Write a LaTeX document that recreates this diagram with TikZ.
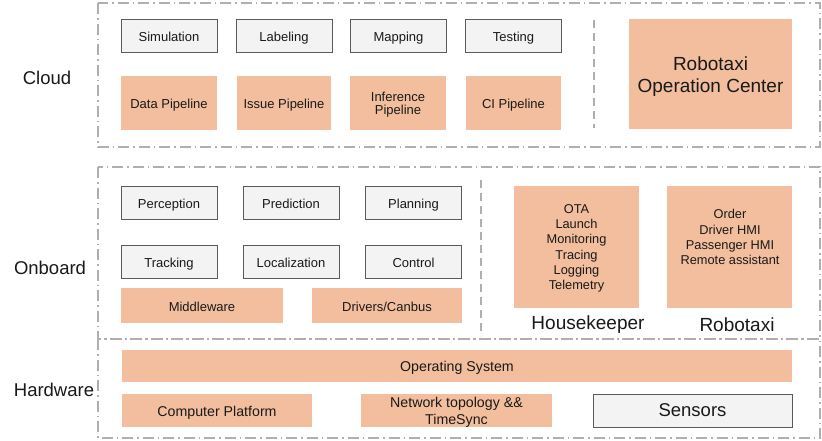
\documentclass[tikz,border=0pt]{standalone}
\usepackage{fontspec}
\setmainfont{Liberation Sans}
\definecolor{peach}{RGB}{243,190,157}
\definecolor{boxgray}{RGB}{243,243,244}
\definecolor{boxline}{RGB}{90,90,90}
\definecolor{framegray}{RGB}{175,175,175}
\definecolor{txt}{RGB}{25,25,25}
\begin{document}
\begin{tikzpicture}[x=1pt,y=-1pt,
  every node/.style={inner sep=0pt,text=txt},
  oneline/.style={text height=11.6pt,text depth=0.2pt},
  gbox/.style={draw=boxline,line width=1pt,fill=boxgray,align=center,font=\fontsize{13}{15.3}\selectfont},
  obox/.style={fill=peach,align=center,font=\fontsize{13}{15.3}\selectfont},
  hwtext/.style={font=\fontsize{14.2}{17}\selectfont},
  biglabel/.style={font=\fontsize{18.5}{22}\selectfont},
  frame/.style={draw=framegray,line width=1.5pt,dash pattern=on 11pt off 4pt on 1.5pt off 4pt},
  sep/.style={draw=framegray,line width=1.5pt,dash pattern=on 8pt off 5pt}
]
\useasboundingbox (0,0) rectangle (822,440);
\fill[white] (0,0) rectangle (822,440);

% frames
\draw[frame] (98,3) rectangle (820,147);
\draw[frame] (98,167) rectangle (820,339);
\draw[frame] (98,339) rectangle (820,438);
\coordinate (cs1) at (594,20); \coordinate (cs2) at (594,128);
\draw[sep] (cs1) -- (cs2);
\coordinate (os1) at (481,180); \coordinate (os2) at (481,336);
\draw[sep] (os1) -- (os2);

% side labels
\node[biglabel] (lcloud) at (47,78) {Cloud};
\node[biglabel] (lonboard) at (50,268) {Onboard};
\node[biglabel] (lhw) at (54,390) {Hardware};

% cloud
\node[gbox,oneline,minimum width=96pt,minimum height=33pt] (sim) at (169,35.5) {Simulation};
\node[gbox,oneline,minimum width=96pt,minimum height=33pt] (lab) at (284,35.5) {Labeling};
\node[gbox,oneline,minimum width=96pt,minimum height=33pt] (map) at (398.5,35.5) {Mapping};
\node[gbox,oneline,minimum width=96pt,minimum height=33pt] (test) at (513.5,35.5) {Testing};
\node[obox,oneline,minimum width=96pt,minimum height=54pt] (dp) at (169,103) {Data Pipeline};
\node[obox,oneline,minimum width=94pt,minimum height=54pt] (ip) at (284,103) {Issue Pipeline};
\node[obox,minimum width=96pt,minimum height=54pt] (infpbox) at (398,103) {};
\node[align=center,font=\fontsize{13}{13.5}\selectfont] (infp) at (398,104.5) {Inference\\Pipeline};
\node[obox,oneline,minimum width=95pt,minimum height=54pt] (cip) at (513.5,103) {CI Pipeline};
\node[fill=peach,minimum width=163pt,minimum height=110pt] (rocbox) at (710.5,74) {};
\node[align=center,font=\fontsize{19}{22}\selectfont] (roc) at (710.5,77) {Robotaxi\\Operation Center};

% onboard
\node[gbox,oneline,minimum width=96pt,minimum height=33pt] (perc) at (169,202.5) {Perception};
\node[gbox,oneline,minimum width=96pt,minimum height=33pt] (pred) at (291,202.5) {Prediction};
\node[gbox,oneline,minimum width=96pt,minimum height=33pt] (plan) at (413.5,202.5) {Planning};
\node[gbox,oneline,minimum width=96pt,minimum height=33pt] (track) at (169,262) {Tracking};
\node[gbox,oneline,minimum width=96pt,minimum height=33pt] (loc) at (291,262) {Localization};
\node[gbox,oneline,minimum width=96pt,minimum height=33pt] (ctrl) at (413.5,262) {Control};
\node[obox,oneline,minimum width=162pt,minimum height=35pt] (mid) at (202,305.5) {Middleware};
\node[obox,oneline,minimum width=150pt,minimum height=35pt] (drv) at (387,305.5) {Drivers/Canbus};
\node[fill=peach,minimum width=125pt,minimum height=122pt] (hk) at (576.5,247) {};
\node[align=center,font=\fontsize{12.8}{15.3}\selectfont] (hktext) at (576.5,248.5) {OTA\\Launch\\Monitoring\\Tracing\\Logging\\Telemetry};
\node[fill=peach,minimum width=125pt,minimum height=122pt] (rt) at (729.5,247) {};
\node[align=center,font=\fontsize{12.8}{15.3}\selectfont] (rttext) at (730,237.3) {Order\\Driver HMI\\Passenger HMI\\Remote assistant};
\node[font=\fontsize{19}{22}\selectfont] (hklabel) at (588,325) {Housekeeper};
\node[font=\fontsize{19}{22}\selectfont] (rtlabel) at (737,325) {Robotaxi};

% hardware
\node[obox,hwtext,oneline,minimum width=670pt,minimum height=32pt] (os) at (457,366) {Operating System};
\node[obox,hwtext,oneline,minimum width=190pt,minimum height=33pt] (cp) at (217,410.5) {Computer Platform};
\node[fill=peach,minimum width=191pt,minimum height=33pt] (netbox) at (456.5,410.5) {};
\node[align=center,font=\fontsize{14.2}{17}\selectfont] (net) at (456.5,412) {Network topology \&\&\\TimeSync};
\node[gbox,text height=12.6pt,text depth=0.2pt,minimum width=199pt,minimum height=33pt,font=\fontsize{18.5}{22}\selectfont] (sens) at (692.5,410.5) {Sensors};
\end{tikzpicture}
\end{document}
